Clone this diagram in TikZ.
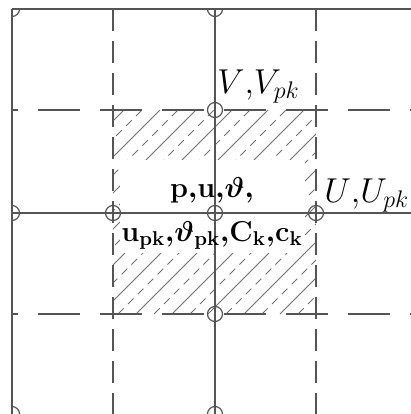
\documentclass[tikz,border=0pt]{standalone}
\usepackage{amsmath,amssymb}
\usepackage{tikz}
\definecolor{grid}{HTML}{555555}
\definecolor{hatch}{HTML}{707070}

\begin{document}
\begin{tikzpicture}[x=0.5pt,y=-0.5pt,
  solidln/.style={draw=grid,line width=0.6pt},
  hdashln/.style={solidln,dash pattern=on 21pt off 10pt,dash phase=18pt},
  vdashln/.style={solidln,dash pattern=on 11pt off 5pt},
  knot/.style={circle,draw=grid,line width=0.6pt,minimum size=7.5pt,inner sep=0pt},
  hatchln/.style={draw=hatch,line width=0.4pt},
  lbl/.style={font=\fontsize{18}{20}\selectfont,inner sep=0pt},
  var/.style={font=\fontsize{14.5}{16}\selectfont\boldmath,inner sep=0pt}]

\useasboundingbox (0,0) rectangle (411,414);

% ---- hatched cell
\begin{scope}
\clip (113,110) rectangle (316,314);
\foreach \c in {234,270,...,630}
  \draw[hatchln] (\c-314,314) -- (\c-110,110);
\foreach \c in {252,288,...,640}
  \draw[hatchln,dash pattern=on 4pt off 3pt] (\c-314,314) -- (\c-110,110);
\end{scope}
\node[fill=white,minimum width=92.5pt,minimum height=46.5pt,inner sep=0pt] (blank) at (212.5,206.5) {};

% ---- knots
\begin{scope}
\clip (12,9) rectangle (411,414);
\node[knot] (kc) at (12,9) {};
\node[knot] (kt) at (215,9) {};
\node[knot] (kv) at (215,110) {};
\node[knot] (kl) at (12,213) {};
\node[knot] (kw) at (113,213) {};
\node[knot] (kp) at (215,213) {};
\node[knot] (ku) at (316,213) {};
\node[knot] (ks) at (215,314) {};
\node[knot] (kbl) at (12,414) {};
\node[knot] (kb) at (215,414) {};
\end{scope}
\coordinate (te) at (411,9);
\coordinate (re) at (411,213);
\coordinate (nl) at (12,110);
\coordinate (ne) at (411,110);
\coordinate (sl) at (12,314);
\coordinate (se) at (411,314);
\coordinate (wt) at (113,9);
\coordinate (wb) at (113,414);
\coordinate (et) at (316,9);
\coordinate (eb) at (316,414);

% ---- grid lines
\draw[solidln] (kc.center) -- (te);
\draw[solidln] (kc.center) -- (kbl.center);
\draw[solidln] (kt.center) -- (kb.center);
\draw[solidln] (kl.center) -- (re);
\draw[hdashln] (nl) -- (ne);
\draw[hdashln] (sl) -- (se);
\draw[vdashln] (wt) -- (wb);
\draw[vdashln] (et) -- (eb);

% ---- labels
\node[lbl,anchor=base west] (vlbl) at (217,93) {$V{,}V_{pk}$};
\node[lbl,anchor=base west] (ulbl) at (324,202) {$U{,}U_{pk}$};
\node[var,anchor=base] (vars1) at (212,197) {$\mathbf{p}{,}\mathbf{u}{,}\vartheta{,}$};
\node[var,anchor=base] (vars2) at (212,241) {$\mathbf{u}_{\mathbf{pk}}{,}\vartheta_{\mathbf{pk}}{,}\mathbf{C}_{\mathbf{k}}{,}\mathbf{c}_{\mathbf{k}}$};
\end{tikzpicture}
\end{document}
